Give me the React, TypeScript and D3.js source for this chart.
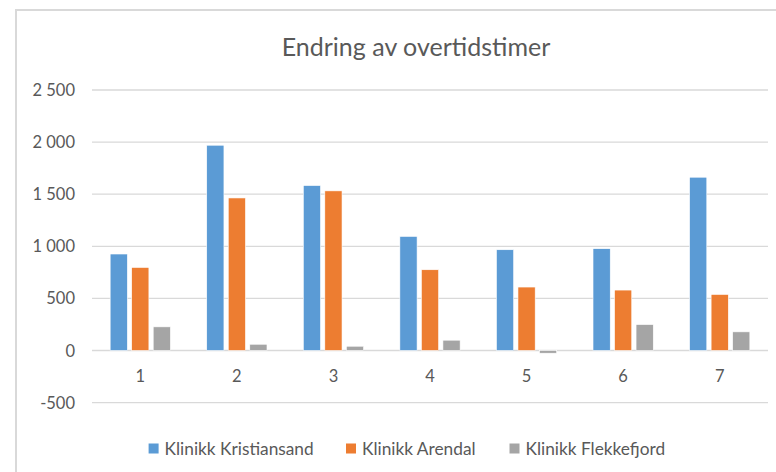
import React from "react";
import * as d3 from "d3";

const categories = ["1", "2", "3", "4", "5", "6", "7"];
const seriesNames = ["Klinikk Kristiansand", "Klinikk Arendal", "Klinikk Flekkefjord"];
const kristiansand = [926, 1970, 1583, 1095, 967, 977, 1663];
const arendal = [797, 1464, 1532, 775, 609, 580, 538];
const flekkefjord = [227, 60, 41, 99, -26, 249, 179];
const yTicks = [-500, 0, 500, 1000, 1500, 2000, 2500];
const colors = ["#5B9BD5", "#ED7D31", "#A5A5A5"];
const title = "Endring av overtidstimer";

const W = 776;
const H = 472;
const plotLeft = 92;
const plotRight = 768;
const plotTop = 90;
const plotBottom = 402.6;
const FONT = "Lato, 'Open Sans', sans-serif";
const TEXT = "#595959";

const fmt = (v: number) => {
  const s = Math.abs(v).toString().replace(/\B(?=(\d{3})+(?!\d))/g, " ");
  return (v < 0 ? "-" : "") + s;
};

export default function App() {
  const allSeries = [kristiansand, arendal, flekkefjord];
  const y = d3.scaleLinear().domain([-500, 2500]).range([plotBottom, plotTop]);
  const x0 = d3
    .scaleBand<string>()
    .domain(categories)
    .range([plotLeft, plotRight])
    .paddingInner(0.376)
    .paddingOuter(0.188);
  const x1 = d3
    .scaleBand<string>()
    .domain(seriesNames)
    .range([0, x0.bandwidth()])
    .paddingInner(0.2);

  const legendX = [148.6, 346, 509.5];

  return (
    <svg
      width={W}
      height={H}
      style={{ position: "absolute", left: 0, top: 0, background: "#fff" }}
    >
      <rect x={0} y={0} width={W} height={H} fill="#fff" />
      <path d={`M16,${H} L16,10 L${W},10`} fill="none" stroke="#D9D9D9" strokeWidth={2} />
      <text
        x={416}
        y={46}
        textAnchor="middle"
        dominantBaseline="central"
        fontFamily={FONT}
        fontWeight={400}
        fontSize={25}
        fill={TEXT}
      >
        {title}
      </text>
      {yTicks.map((t) => (
        <g key={t}>
          <line
            x1={plotLeft}
            x2={plotRight}
            y1={y(t)}
            y2={y(t)}
            stroke="#D9D9D9"
            strokeWidth={t === 0 ? 1.5 : 1.3}
          />
          <text
            x={75}
            y={y(t)}
            textAnchor="end"
            dominantBaseline="central"
            fontFamily={FONT}
            fontSize={16.5}
            fill={TEXT}
          >
            {fmt(t)}
          </text>
        </g>
      ))}
      {categories.map((c, i) => (
        <g key={c}>
          {allSeries.map((s, si) => {
            const v = s[i];
            const xx = (x0(c) as number) + (x1(seriesNames[si]) as number);
            return (
              <rect
                key={si}
                x={xx}
                width={x1.bandwidth()}
                y={Math.min(y(v), y(0))}
                height={Math.abs(y(v) - y(0))}
                fill={colors[si]}
                stroke="#fff"
                strokeWidth={0.6}
              />
            );
          })}
          <text
            x={(x0(c) as number) + x0.bandwidth() / 2}
            y={376}
            textAnchor="middle"
            dominantBaseline="central"
            fontFamily={FONT}
            fontSize={16.5}
            fill={TEXT}
          >
            {c}
          </text>
        </g>
      ))}
      {seriesNames.map((n, i) => (
        <g key={n}>
          <rect x={legendX[i]} y={443.5} width={10} height={10} fill={colors[i]} />
          <text
            x={legendX[i] + 16}
            y={448.5}
            dominantBaseline="central"
            fontFamily={FONT}
            fontSize={17.3}
            fill={TEXT}
          >
            {n}
          </text>
        </g>
      ))}
    </svg>
  );
}
